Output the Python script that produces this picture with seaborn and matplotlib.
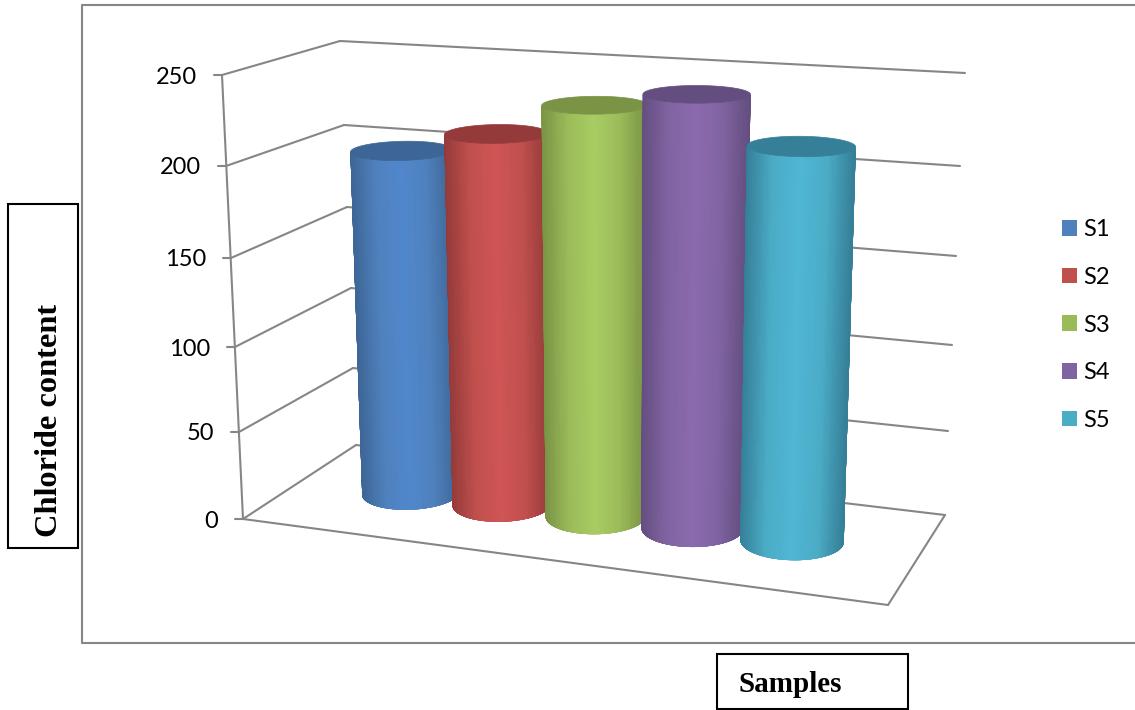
"""Chloride content per sample, Excel style 3D cylinders."""
import numpy as np
import matplotlib
matplotlib.use("Agg")
import matplotlib.pyplot as plt
from matplotlib.collections import PolyCollection
from matplotlib.patches import Patch, Polygon, Rectangle
import seaborn as sns

# data
samples = ["S1", "S2", "S3", "S4", "S5"]
chloride = [201, 214, 233, 242, 218]
y_ticks = [0, 50, 100, 150, 200, 250]
y_max = 250

# colours
legend_colors = ["#4F81BD", "#C0504D", "#9BBB59", "#8064A2", "#4BACC6"]
bright_colors = ["#5087CC", "#CF5555", "#A8CC62", "#8B69AE", "#4FB6D4"]
top_colors = ["#3D6595", "#943A3A", "#7A9345", "#644E80", "#367F98"]
GRID = "#868686"

sns.set_style("white")
plt.rcParams["font.family"] = ["Lato", "DejaVu Sans"]
plt.rcParams["text.color"] = "black"

fig = plt.figure(figsize=(11.35, 7.1), dpi=100)
ax = fig.add_axes([0, 0, 1, 1])
ax.set_xlim(0, 1135)
ax.set_ylim(710, 0)
ax.axis("off")

# ── box corners of the 3D scene in picture pixels, used to fit the projection
front_left = [(243, 519), (239, 432), (235, 347), (231, 258), (226, 166), (222, 75)]
back_left = [(356, 445), (353, 368), (351, 288), (347, 207), (344, 125), (340, 41)]
back_right = [(945, 515), (948, 431), (952, 345), (956, 256), (960, 166), (965, 73)]
front_right_floor = (888, 605)

world, picture = [], []
for k, t in enumerate(y_ticks):
    v = t / y_max
    world += [(0, v, 0), (0, v, 1), (1, v, 1)]
    picture += [front_left[k], back_left[k], back_right[k]]
world.append((1, 0, 0))
picture.append(front_right_floor)

rows = []
for (u, v, w), (px, py) in zip(world, picture):
    rows.append([u, v, w, 1, 0, 0, 0, 0, -px * u, -px * v, -px * w, -px])
    rows.append([0, 0, 0, 0, u, v, w, 1, -py * u, -py * v, -py * w, -py])
P = np.linalg.svd(np.array(rows, dtype=float))[2][-1].reshape(3, 4)


def project(u, v, w):
    q = P @ np.vstack([u, v, w, np.ones_like(u)])
    return q[0] / q[2], q[1] / q[2]


def seg(a, b, **kw):
    ax.plot([a[0], b[0]], [a[1], b[1]], color=GRID, lw=1.5,
            solid_capstyle="round", **kw)


def front_arc(x, y, n=121):
    # part of the ellipse between its left and right extremes, going round the front
    i0, i1 = np.argmin(x), np.argmax(x)
    idx = np.arange(i0, i1 + 1) if i1 > i0 else np.r_[i0:len(x), 0:i1 + 1]
    s = np.linspace(0, len(idx) - 1, n)
    return (np.interp(s, np.arange(len(idx)), x[idx]),
            np.interp(s, np.arange(len(idx)), y[idx]))


# ── walls
for k in range(len(y_ticks)):
    seg(front_left[k], back_left[k], zorder=1)
    seg(back_left[k], back_right[k], zorder=1)
    seg((front_left[k][0] - 8, front_left[k][1]), front_left[k], zorder=1)
    ax.text(front_left[k][0] - 25, front_left[k][1] + 2, str(y_ticks[k]),
            ha="right", va="center", fontsize=17)
seg(front_left[0], front_left[-1], zorder=1)
seg(front_left[0], front_right_floor, zorder=1)
seg(front_right_floor, back_right[0], zorder=1)

# ── cylinders
U_START, U_STEP = 0.190, 0.155
R_U, R_W = 0.076, 0.21
theta = np.linspace(np.pi, 3 * np.pi, 720, endpoint=False)

for i, (name, val) in enumerate(zip(samples, chloride)):
    uc = U_START + i * U_STEP
    u = uc + R_U * np.cos(theta)
    w = 0.51 + R_W * np.sin(theta)
    xb, yb = project(u, np.zeros_like(u), w)
    xt, yt = project(u, np.full_like(u, val / y_max), w)
    xba, yba = front_arc(xb, yb)
    xta, yta = front_arc(xt, yt)

    # solid silhouette underneath gives a clean edge and hides the grid
    outline = Polygon(np.column_stack([np.r_[xba, xta[::-1]], np.r_[yba, yta[::-1]]]),
                      closed=True, fc=top_colors[i], ec="none", zorder=3 + i)
    ax.add_patch(outline)

    ramp = sns.blend_palette([top_colors[i], legend_colors[i], bright_colors[i],
                              legend_colors[i], top_colors[i]], n_colors=120)
    polys, cols = [], []
    for j in range(120):
        polys.append([(xba[j], yba[j]), (xba[j + 1], yba[j + 1]),
                      (xta[j + 1], yta[j + 1]), (xta[j], yta[j])])
        frac = (0.5 * (xba[j] + xba[j + 1]) - xba[0]) / (xba[-1] - xba[0])
        cols.append(ramp[min(int(frac * 120), 119)])
    strips = PolyCollection(polys, facecolors=cols, edgecolors=cols, linewidths=0.4,
                            antialiaseds=False, zorder=3 + i)
    ax.add_collection(strips)
    strips.set_clip_path(outline)
    ax.fill(xt, yt, color=top_colors[i], lw=0.5, zorder=3 + i)

# ── chart frame
ax.plot([1135, 82, 82, 1135], [5, 5, 643, 643], color=GRID, lw=1.5, zorder=1)

# ── legend
handles = [Patch(facecolor=c, edgecolor="none", label=s)
           for c, s in zip(legend_colors, samples)]
ax.legend(handles=handles, loc="center left", bbox_to_anchor=(1062 / 1135, 1 - 325 / 710),
          frameon=False, fontsize=17, borderpad=0, labelspacing=1.13,
          handlelength=0.64, handleheight=0.64, handletextpad=0.25, borderaxespad=0)

# ── axis title boxes
ax.add_patch(Rectangle((8, 204), 70, 344, fc="white", ec="black", lw=1.5, zorder=6))
ax.text(50, 537, "Chloride content", rotation=90, ha="center", va="bottom",
        family="Liberation Serif", fontweight="bold", fontsize=23.3, zorder=7)
ax.add_patch(Rectangle((717, 654), 191, 55, fc="white", ec="black", lw=1.5, zorder=6))
ax.text(738, 685, "Samples", ha="left", va="center",
        family="Liberation Serif", fontweight="bold", fontsize=21, zorder=7)

fig.savefig("out.png", dpi=100)
